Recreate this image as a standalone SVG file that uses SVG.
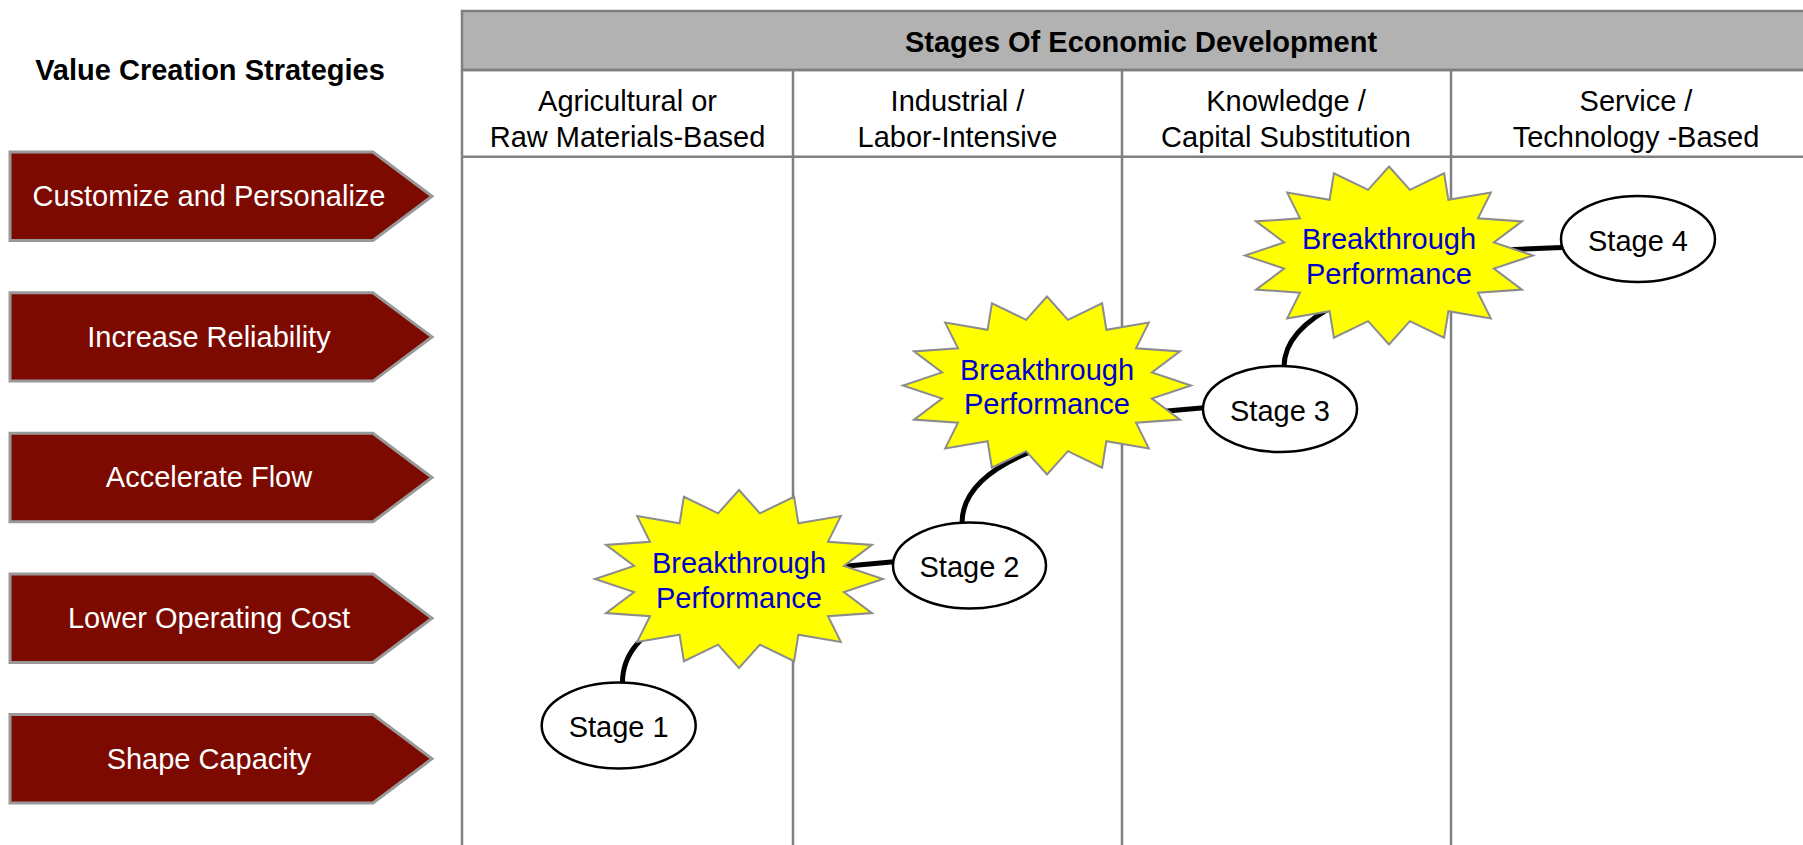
<svg xmlns="http://www.w3.org/2000/svg" xmlns:xlink="http://www.w3.org/1999/xlink" width="1803" height="845" viewBox="0 0 1803 845">
<style>
text{font-family:"Liberation Sans",Arial,sans-serif;font-size:29px;text-anchor:middle}
.b{font-weight:bold;fill:#000}
.hd{fill:#000}
.arw{fill:#7D0A00;stroke:#999;stroke-width:3}
.arwt{fill:#fff}
.grid{stroke:#808080;stroke-width:2.5;fill:none}
.star{fill:#FFFF00;stroke:#8C8C8C;stroke-width:2}
.bt{fill:#0000CC}
.stg{fill:#fff;stroke:#000;stroke-width:2.5}
.st{fill:#000}
.con{fill:none;stroke:#000;stroke-width:5;stroke-linecap:butt}
</style>
<defs>
<polygon id="star16" points="0,-89 20.9,-65.7 55.1,-82.2 59.4,-55.7 101.8,-62.9 89,-37.2 133,-34.1 104.9,-13.1 144,0 104.9,13.1 133,34.1 89,37.2 101.8,62.9 59.4,55.7 55.1,82.2 20.9,65.7 0,89 -20.9,65.7 -55.1,82.2 -59.4,55.7 -101.8,62.9 -89,37.2 -133,34.1 -104.9,13.1 -144,0 -104.9,-13.1 -133,-34.1 -89,-37.2 -101.8,-62.9 -59.4,-55.7 -55.1,-82.2 -20.9,-65.7"/>
<polygon id="pent" points="10,-44.2 373,-44.2 432,0 373,44.2 10,44.2"/>
</defs>
<rect width="1803" height="845" fill="#fff"/>

<g id="table">
<rect x="462" y="11" width="1400" height="59" fill="#B2B2B2" stroke="#808080" stroke-width="2.5"/>
<path class="grid" d="M462 70V845M793 70V845M1122 70V845M1451 70V845M462 70H1803M462 156.7H1803"/>
<text class="b" x="1141" y="52">Stages Of Economic Development</text>
<text class="hd" x="627.5" y="111">Agricultural or</text>
<text class="hd" x="627.5" y="147">Raw Materials-Based</text>
<text class="hd" x="957.5" y="111">Industrial /</text>
<text class="hd" x="957.5" y="147">Labor-Intensive</text>
<text class="hd" x="1286" y="111">Knowledge /</text>
<text class="hd" x="1286" y="147">Capital Substitution</text>
<text class="hd" x="1636" y="111">Service /</text>
<text class="hd" x="1636" y="147">Technology -Based</text>
</g>

<g id="strategies">
<text class="b" x="210" y="80">Value Creation Strategies</text>
<g id="arrow1"><use xlink:href="#pent" class="arw" transform="translate(0,196.2)"/><text class="arwt" x="209" y="206">Customize and Personalize</text></g>
<g id="arrow2"><use xlink:href="#pent" class="arw" transform="translate(0,336.9)"/><text class="arwt" x="209" y="346.7">Increase Reliability</text></g>
<g id="arrow3"><use xlink:href="#pent" class="arw" transform="translate(0,477.5)"/><text class="arwt" x="209" y="487.3">Accelerate Flow</text></g>
<g id="arrow4"><use xlink:href="#pent" class="arw" transform="translate(0,618.2)"/><text class="arwt" x="209" y="628">Lower Operating Cost</text></g>
<g id="arrow5"><use xlink:href="#pent" class="arw" transform="translate(0,758.8)"/><text class="arwt" x="209" y="768.6">Shape Capacity</text></g>
</g>

<g id="connectors">
<path class="con" d="M622.5 683 Q622 640 680 615"/>
<path class="con" d="M820 568.6 L894 561.7"/>
<path class="con" d="M962 523 Q962 480 1030 452"/>
<path class="con" d="M1130 414.3 L1204 407.7"/>
<path class="con" d="M1284 367 Q1284 330 1340 303"/>
<path class="con" d="M1480 251 L1562 247.5"/>
</g>

<g id="burst1"><use xlink:href="#star16" class="star" transform="translate(739,579)"/><text class="bt" x="739" y="573">Breakthrough</text><text class="bt" x="739" y="608">Performance</text></g>
<g id="burst2"><use xlink:href="#star16" class="star" transform="translate(1047,385.5)"/><text class="bt" x="1047" y="379.5">Breakthrough</text><text class="bt" x="1047" y="414">Performance</text></g>
<g id="burst3"><use xlink:href="#star16" class="star" transform="translate(1389,255.5)"/><text class="bt" x="1389" y="249">Breakthrough</text><text class="bt" x="1389" y="284">Performance</text></g>

<g id="stage1"><ellipse class="stg" cx="618.7" cy="725.5" rx="77" ry="43"/><text class="st" x="618.7" y="737">Stage 1</text></g>
<g id="stage2"><ellipse class="stg" cx="969.5" cy="565.5" rx="76.5" ry="43"/><text class="st" x="969.5" y="577">Stage 2</text></g>
<g id="stage3"><ellipse class="stg" cx="1280" cy="409" rx="77" ry="43"/><text class="st" x="1280" y="420.5">Stage 3</text></g>
<g id="stage4"><ellipse class="stg" cx="1638" cy="239" rx="77" ry="43"/><text class="st" x="1638" y="250.5">Stage 4</text></g>
</svg>
